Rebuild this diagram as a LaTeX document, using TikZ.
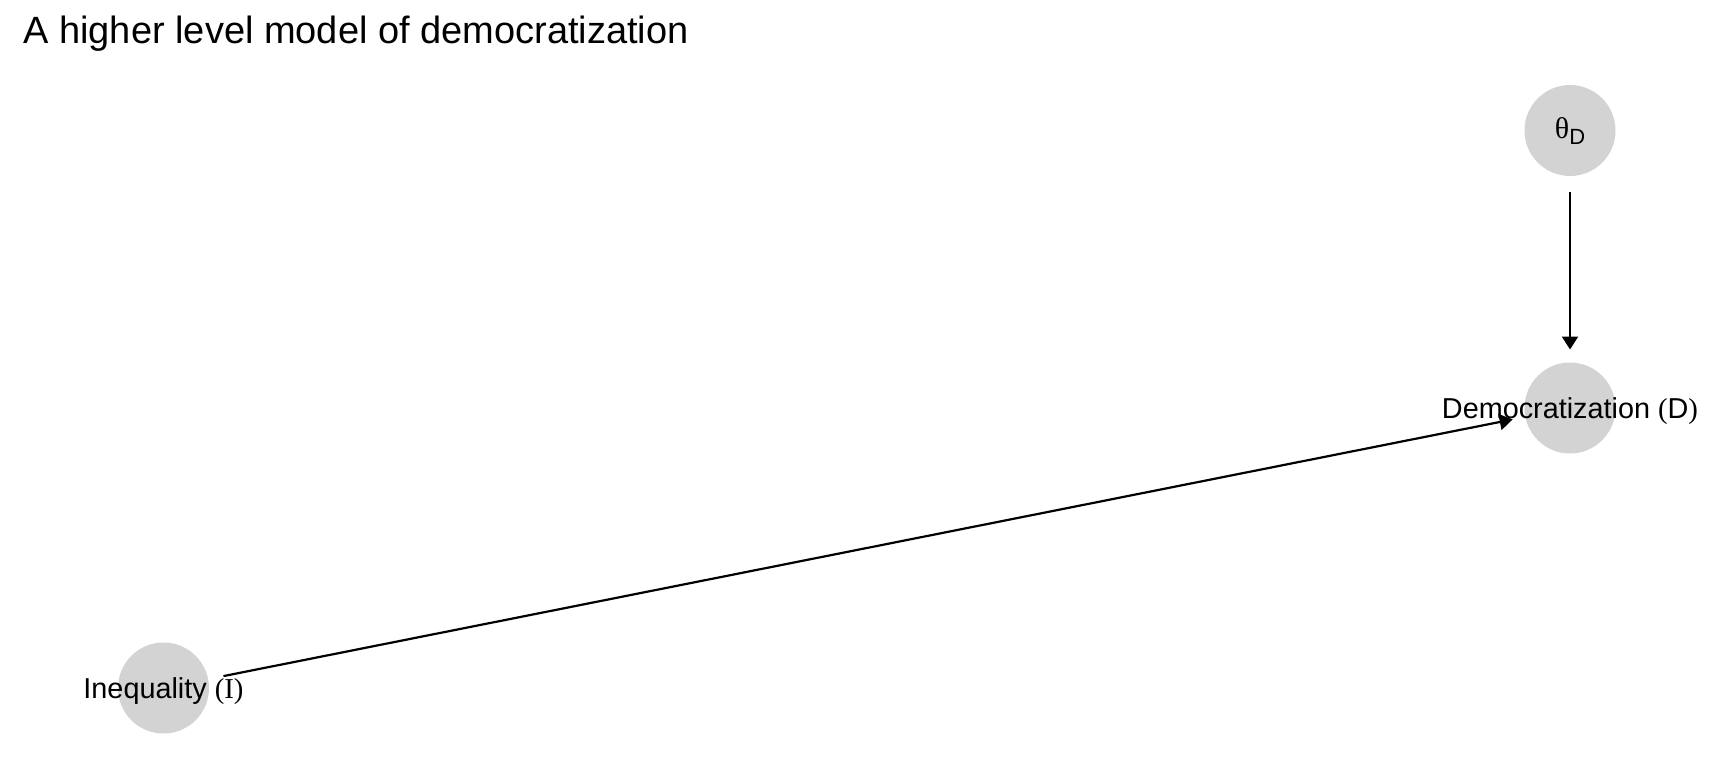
\documentclass[tikz,border=0pt]{standalone}
\usepackage{fontspec}
\setmainfont{Liberation Sans}
\newfontfamily\grfont{Liberation Serif}
\usetikzlibrary{arrows.meta}
\definecolor{nodegray}{HTML}{D3D3D3}

\begin{document}
\begin{tikzpicture}[
  x=0.5pt, y=-0.5pt,
  font=\fontsize{14.4}{17}\selectfont,
  var/.style={circle, fill=nodegray, minimum size=45.5pt, inner sep=0pt},
  lab/.style={inner sep=0pt, anchor=base},
  arr/.style={-{Triangle[length=6.5pt, width=8pt]}, line width=1.1pt,
              shorten <=7.6pt, shorten >=6.3pt}
]
\useasboundingbox (0,0) rectangle (1728,768);
\node[anchor=base west, inner sep=0pt, font=\fontsize{19}{22}\selectfont]
  (title) at (23,43) {A higher level model of democratization};
% variables
\node[var] (thetaD) at (1570,130.5) {};
\node[var] (D) at (1570,408) {};
\node[var] (I) at (163.5,688) {};
% labels
\node[lab] (thetaDlab) at ([yshift=-4.2pt]thetaD.center)
  {{\grfont\fontsize{15}{17}\selectfont θ}\raisebox{-3pt}{\fontsize{11}{12}\selectfont D}};
\node[lab] (Dlab) at ([yshift=-5.4pt]D.center)
  {Democratization {\grfont(}D{\grfont)}};
\node[lab] (Ilab) at ([yshift=-5pt]I.center)
  {Inequality {\grfont(I)}};
% edges
\draw[arr, shorten <=8pt] (thetaD) -- (D);
\draw[arr] (I) -- (D);
\end{tikzpicture}
\end{document}
